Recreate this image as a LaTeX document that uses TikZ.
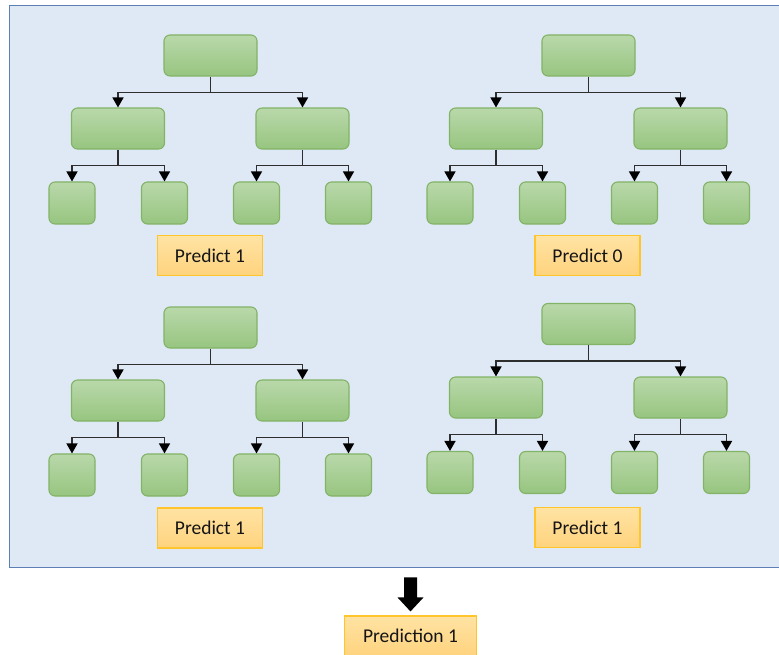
\documentclass[tikz,border=0pt]{standalone}
\usepackage{fontspec}
\setmainfont{Carlito}
\usetikzlibrary{arrows.meta}

\definecolor{panelfill}{HTML}{DFE9F5}
\definecolor{paneldraw}{HTML}{5E7FB5}
\definecolor{greentop}{HTML}{B9D8AA}
\definecolor{greenbot}{HTML}{97C580}
\definecolor{greendraw}{HTML}{82B366}
\definecolor{goldtop}{HTML}{FFE3A3}
\definecolor{goldbot}{HTML}{FFD37E}
\definecolor{golddraw}{HTML}{FFC52A}
\definecolor{linkgray}{HTML}{2E2E2E}
\definecolor{inkdark}{HTML}{151515}

\tikzset{
  splitbox/.style={draw=greendraw, line width=1.1pt, rounded corners=6pt,
    top color=greentop, bottom color=greenbot,
    minimum width=93pt, minimum height=41pt, inner sep=0pt},
  leafbox/.style={splitbox, minimum width=46pt, minimum height=42pt},
  votebox/.style={draw=golddraw, line width=1.1pt,
    top color=goldtop, bottom color=goldbot, text=inkdark,
    minimum width=105pt, minimum height=40pt, inner sep=0pt,
    font=\fontsize{19.5}{23}\selectfont},
  link/.style={draw=linkgray, line width=1.5pt,
    -{Triangle[width=11pt,length=10pt,fill=black,color=black]}},
}

% one decision tree: #1 name prefix, (#2,#3) root centre, #4 leaf level offset
\newcommand\dtree[4]{%
  \node[splitbox] (#1r) at (#2,#3) {};
  \node[splitbox] (#1a) at (#2-92.5,#3+#4*0.495) {};
  \node[splitbox] (#1b) at (#2+92,#3+#4*0.495) {};
  \node[leafbox] (#1aa) at (#2-138.5,#3+#4) {};
  \node[leafbox] (#1ab) at (#2-46,#3+#4) {};
  \node[leafbox] (#1ba) at (#2+46,#3+#4) {};
  \node[leafbox] (#1bb) at (#2+138,#3+#4) {};
  \draw[link] (#1r.south) -- ++(0,16) -| (#1a.north);
  \draw[link] (#1r.south) ++(0,16) -| (#1b.north);
  \draw[link] (#1a.south) -- ++(0,16) -| (#1aa.north);
  \draw[link] (#1a.south) ++(0,16) -| (#1ab.north);
  \draw[link] (#1b.south) -- ++(0,16) -| (#1ba.north);
  \draw[link] (#1b.south) ++(0,16) -| (#1bb.north);
}

\begin{document}
\begin{tikzpicture}[x=1pt, y=-1pt]
  \useasboundingbox (0,0) rectangle (779,655);
  \begin{scope}
    \clip (0,0) rectangle (779,655);

    % panel holding the four trees
    \node[draw=paneldraw, fill=panelfill, line width=1.2pt,
      minimum width=790pt, minimum height=562pt, inner sep=0pt,
      anchor=north west] (panel) at (9,5) {};

    \dtree{tl}{210.5}{55.5}{147.5}
    \dtree{tr}{588.5}{55.5}{147.5}
    \dtree{bl}{210.5}{327.5}{147.5}
    \dtree{br}{588.5}{324}{148.5}

    \node[votebox] (vtl) at (210,255.5) {Predict 1};
    \node[votebox] (vtr) at (587.5,255.5) {Predict 0};
    \node[votebox] (vbl) at (210,528) {Predict 1};
    \node[votebox] (vbr) at (587.5,527.5) {Predict 1};

    % combined result
    \node[votebox, minimum width=132pt] (final) at (410.5,636) {Prediction 1};

    % block arrow from the panel to the combined result
    \path (final.north) ++(0,-4) coordinate (tip);
    \fill[black] (tip) -- ++(-13,-14) -- ++(6.5,0) -- ++(0,-20) -- ++(13,0)
      -- ++(0,20) -- ++(6.5,0) -- cycle;
  \end{scope}
\end{tikzpicture}
\end{document}
